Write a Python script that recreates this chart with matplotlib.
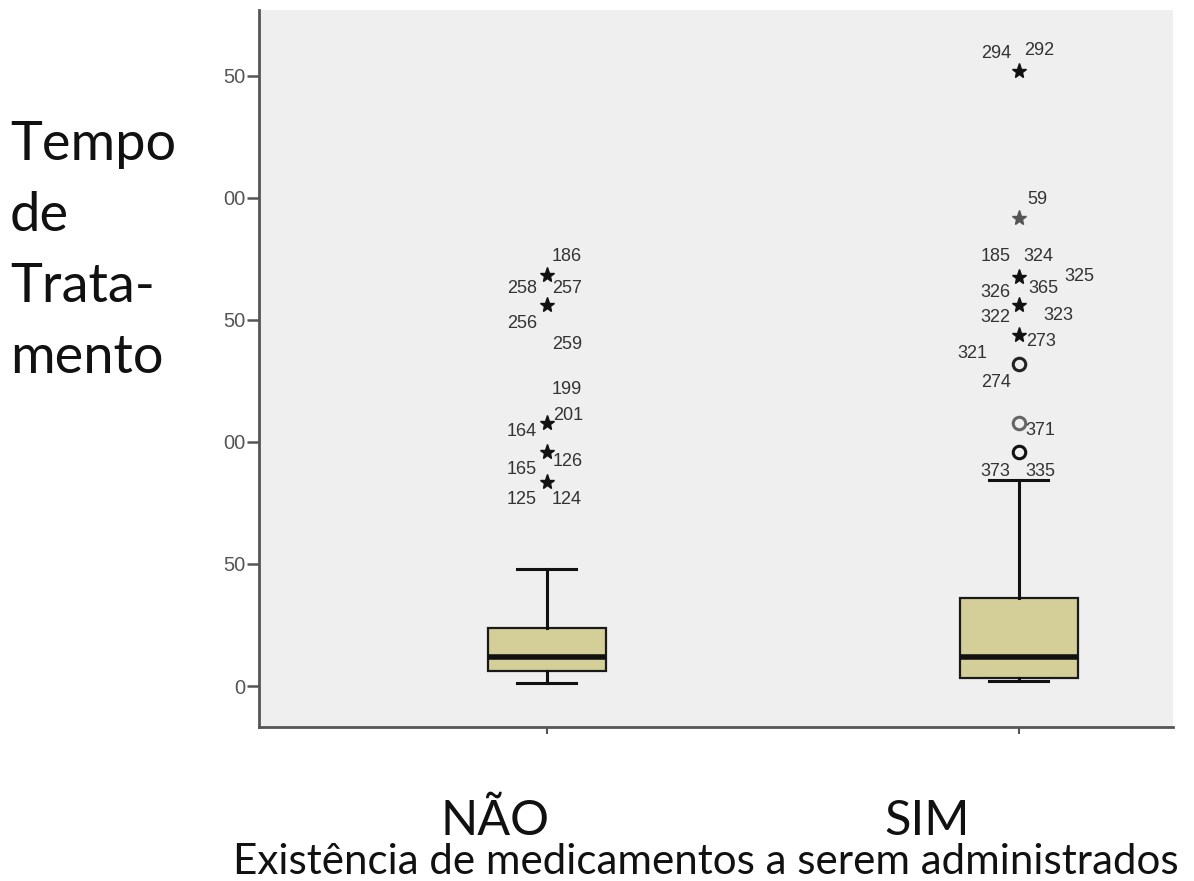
import matplotlib
matplotlib.use("Agg")
import matplotlib.pyplot as plt
from matplotlib.transforms import ScaledTranslation

# ---------------- data ----------------
categories = ["NÃO", "SIM"]
q1 = [6.1, 3.3]
medians = [11.9, 11.9]
q3 = [23.8, 36.0]
whisker_low = [1.2, 2.0]
whisker_high = [48.0, 84.4]

# extreme values (stars) and outliers (circles)
nao_extremes = [168.4, 156.0, 107.8, 96.0, 83.6]
sim_extremes = [252.0, 191.8, 167.6, 156.0, 143.8]
sim_outliers = [132.0, 107.8, 96.0]

# case labels, index of the point they belong to
nao_labels = ["186", "258", "257", "256", "259", "199", "201", "164", "126", "165", "125", "124"]
nao_label_point = [0, 0, 0, 1, 1, 2, 2, 2, 3, 3, 4, 4]
sim_labels = ["294", "292", "59", "185", "324", "325", "365", "326", "322", "323",
              "273", "321", "274", "371", "373", "335"]
sim_label_point = [0, 0, 1, 2, 2, 2, 2, 2, 3, 3, 4, 4, 5, 6, 7, 7]

ytick_values = [0, 50, 100, 150, 200, 250]
ytick_labels = ["0", "50", "00", "50", "00", "50"]

y_title = "Tempo\nde\nTrata-\nmento"
x_title = "Existência de medicamentos a serem administrados"

# ---------------- styling / layout ----------------
# label offsets in pixels (right, down)
nao_offsets = [(20, -19), (-25, 13), (20, 13), (-25, 18), (20, 39), (20, -33),
               (21, -7), (-25, 9), (21, 10), (-25, 18), (-25, 18), (20, 18)]
sim_offsets = [(-23, -18), (20, -21), (19, -18), (-23, -20), (20, -20), (61, 0),
               (25, 12), (-23, 16), (-23, 12), (40, 10), (22, 6), (-46, 18),
               (-23, 19), (22, 8), (-23, 20), (22, 20)]
category_label_shift_px = [-52, -92]

W, H = 1194, 881
fig = plt.figure(figsize=(W / 100, H / 100), dpi=100)
fig.patch.set_facecolor("white")
ax = fig.add_axes([259 / W, 1 - 727 / H, (1173 - 259) / W, (727 - 10) / H])
ax.set_facecolor("#efefef")

positions = [1, 2]
stats = []
for i in range(2):
    stats.append(dict(med=medians[i], q1=q1[i], q3=q3[i],
                      whislo=whisker_low[i], whishi=whisker_high[i],
                      fliers=[], label=categories[i]))

ax.bxp(stats, positions=positions, widths=0.25, capwidths=0.125,
       patch_artist=True, showfliers=False,
       boxprops=dict(facecolor="#d4cf99", edgecolor="#1a1a1a", linewidth=1.6),
       medianprops=dict(color="#111111", linewidth=4),
       whiskerprops=dict(color="#111111", linewidth=2.2),
       capprops=dict(color="#111111", linewidth=2.2))

# points
ax.plot([positions[0]] * len(nao_extremes), nao_extremes, linestyle="none",
        marker="*", ms=11, color="#111111", mec="#111111")
sim_star_colors = ["#111111", "#555555", "#111111", "#111111", "#111111"]
for v, c in zip(sim_extremes, sim_star_colors):
    ax.plot([positions[1]], [v], linestyle="none", marker="*", ms=11,
            color=c, mec=c)
sim_circle_colors = ["#222222", "#666666", "#111111"]
for v, c in zip(sim_outliers, sim_circle_colors):
    ax.plot([positions[1]], [v], linestyle="none", marker="o", ms=9,
            mfc="none", mec=c, mew=2.2)

# labels
label_font = dict(family="Liberation Sans", fontsize=13, color="#333333",
                  ha="center", va="center")
for lab, pi, (dx, dy) in zip(nao_labels, nao_label_point, nao_offsets):
    ax.annotate(lab, (positions[0], nao_extremes[pi]), xytext=(dx, -dy),
                textcoords="offset pixels", **label_font)
sim_points = sim_extremes + sim_outliers
for lab, pi, (dx, dy) in zip(sim_labels, sim_label_point, sim_offsets):
    ax.annotate(lab, (positions[1], sim_points[pi]), xytext=(dx, -dy),
                textcoords="offset pixels", **label_font)

# axes
ax.set_xlim(0.39, 2.327)
ax.set_ylim(-16.8, 277)
ax.set_yticks(ytick_values)
ax.set_yticklabels(ytick_labels, family="Liberation Sans", fontsize=14.5,
                   color="#555555")
ax.tick_params(axis="y", length=9, width=1.8, color="#555555", pad=1)
ax.set_xticks(positions)
ax.set_xticklabels(categories, family="Lato", fontsize=35, color="#111111")
ax.tick_params(axis="x", length=5, width=1.5, color="#555555", pad=47)
for lbl, sh in zip(ax.get_xticklabels(), category_label_shift_px):
    lbl.set_transform(lbl.get_transform() +
                      ScaledTranslation(sh / 100, 0, fig.dpi_scale_trans))
for s in ["top", "right"]:
    ax.spines[s].set_visible(False)
for s in ["left", "bottom"]:
    ax.spines[s].set_color("#555555")
    ax.spines[s].set_linewidth(2)

fig.text(10 / W, 1 - 120 / H, y_title, family="Lato", fontsize=39,
         color="#111111", ha="left", va="top", linespacing=1.55)
fig.text(706 / W, 1 - 874 / H, x_title, family="Lato", fontsize=30.3,
         color="#111111", ha="center", va="baseline")

fig.savefig("out.png", dpi=100, facecolor="white")
